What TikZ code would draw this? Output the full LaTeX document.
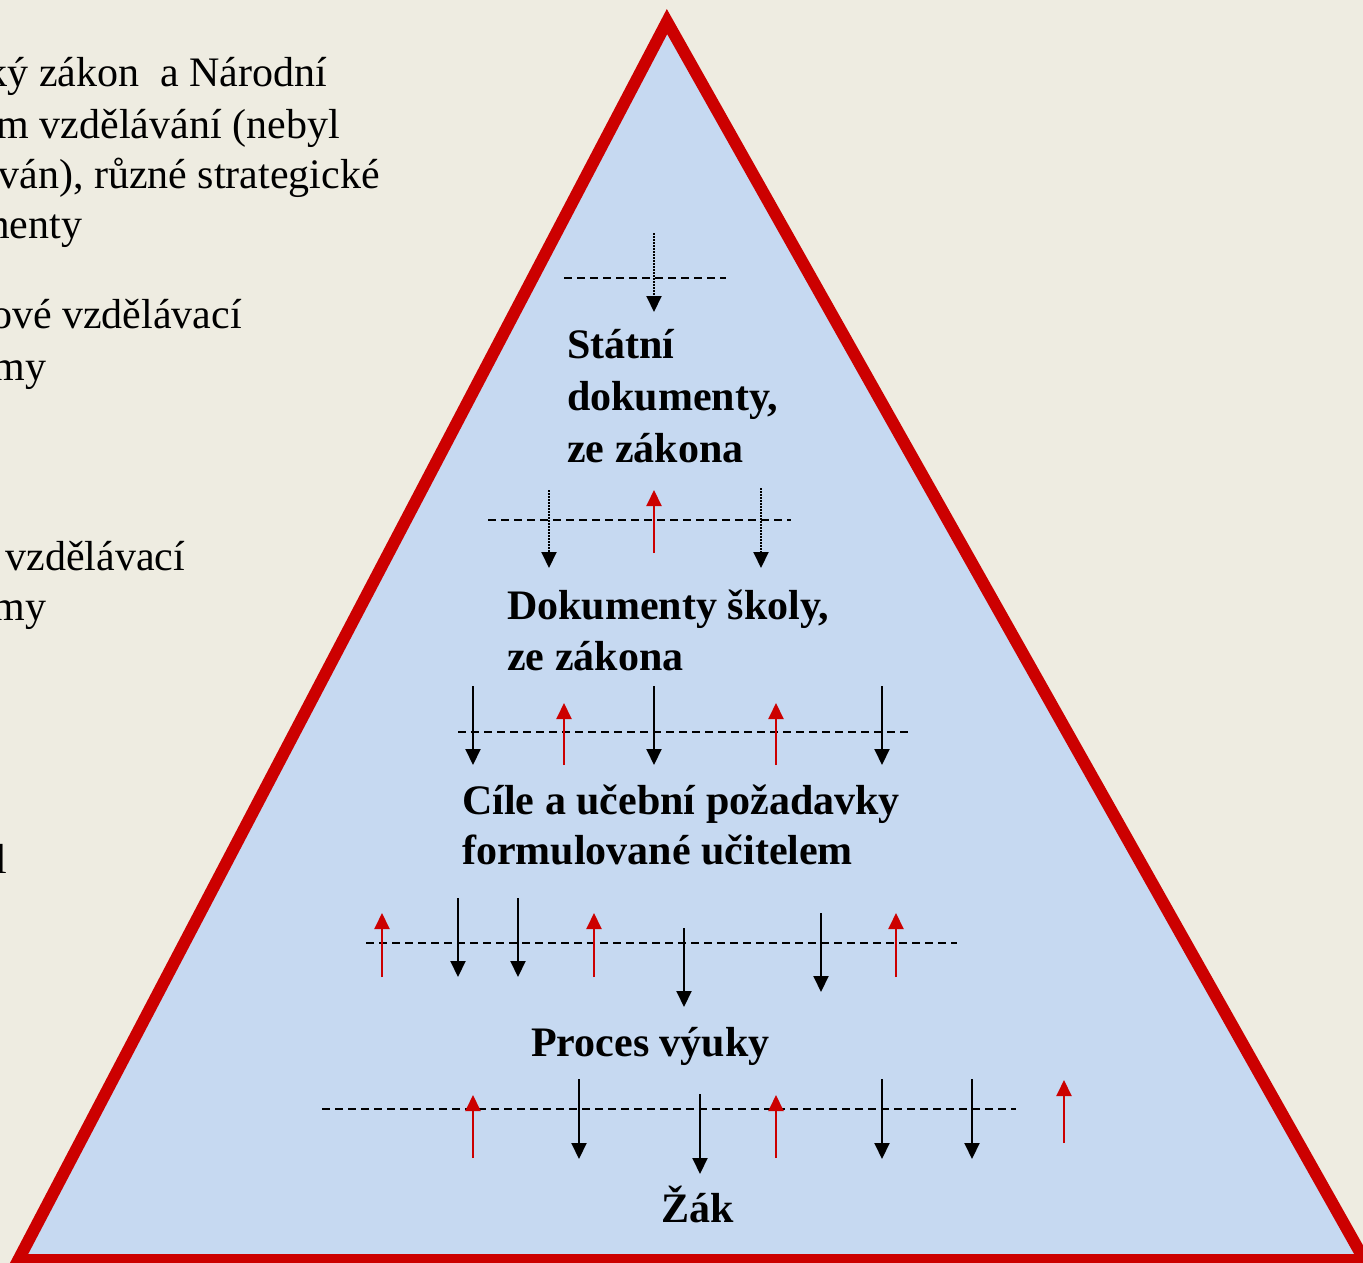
\documentclass[tikz,border=0pt]{standalone}
\usepackage{fontspec}
\setmainfont{Liberation Serif}
\usetikzlibrary{arrows.meta}
\definecolor{bgbeige}{HTML}{EEECE1}
\definecolor{pyrfill}{HTML}{C6D9F1}
\definecolor{pyrred}{HTML}{CC0000}
\tikzset{
  lefttext/.style={anchor=base west, inner sep=0pt, font=\fontsize{42}{52}\selectfont},
  leveltext/.style={anchor=base west, inner sep=0pt, font=\fontsize{42}{52}\selectfont\bfseries},
  levelline/.style={line width=2pt, dash pattern=on 8pt off 5pt},
  downarr/.style={line width=2pt, -{Triangle[width=15pt,length=16pt]}},
  dotarr/.style={downarr, dash pattern=on 1.5pt off 1.5pt},
  uparr/.style={line width=2pt, pyrred, -{Triangle[width=15pt,length=16pt]}},
}
\begin{document}
\begin{tikzpicture}[x=1pt,y=-1pt]
\path [use as bounding box, fill=bgbeige] (0,0) rectangle (1363,1263);
\clip (0,0) rectangle (1363,1263);
% texts on the left, cut by the page edge
\node [lefttext] (law1) at (-107,87) {Školský zákon\ \ a Národní};
\node [lefttext] (law2) at (-113,138) {program vzdělávání (nebyl};
\node [lefttext] (law3) at (-116,188) {realizován), různé strategické};
\node [lefttext] (law4) at (-107,238) {dokumenty};
\node [lefttext] (rvp1) at (-107,328) {Rámcové vzdělávací};
\node [lefttext] (rvp2) at (-117,380) {programy};
\node [lefttext] (svp1) at (-115,570) {Školní vzdělávací};
\node [lefttext] (svp2) at (-117,620) {programy};
\node [lefttext] (teach) at (-96,873) {Učitel};
% pyramid
\draw [pyrred, line width=12pt, fill=pyrfill, line join=miter] (667,21.6) coordinate (apex) -- (18.3,1260) coordinate (bl) -- (1364.4,1260) coordinate (br) -- cycle;
% levels
\node [leveltext] (stat1) at (567,358) {Státní};
\node [leveltext] (stat2) at (567,410) {dokumenty,};
\node [leveltext] (stat3) at (567,462) {ze zákona};
\node [leveltext] (skol1) at (507,619) {Dokumenty školy,};
\node [leveltext] (skol2) at (507,670) {ze zákona};
\node [leveltext] (cile1) at (462,814) {Cíle a učební požadavky};
\node [leveltext] (cile2) at (462,864) {formulované učitelem};
\node [leveltext] (proc) at (531,1056) {Proces výuky};
\node [leveltext] (zak) at (661,1222) {Žák};
% dashed borders between levels
\draw [levelline] (564,278) -- (726,278);
\draw [levelline] (488,520) -- (791,520);
\draw [levelline] (458,732) -- (912,732);
\draw [levelline] (366,943) -- (957,943);
\draw [levelline] (322,1109) -- (1016,1109);
% arrows
\draw [dotarr] (654,233) -- (654,312);
\foreach \x/\a/\b in {549/490/568, 761/488/568}
  \draw [dotarr] (\x,\a) -- (\x,\b);
\draw [uparr] (654,553) -- (654,490);
\foreach \x in {473,654,882}
  \draw [downarr] (\x,686) -- (\x,765);
\foreach \x in {564,776}
  \draw [uparr] (\x,765) -- (\x,703);
\foreach \x/\a/\b in {458/898/977, 518/898/977, 684/928/1007, 821/913/992}
  \draw [downarr] (\x,\a) -- (\x,\b);
\foreach \x in {382,594,896}
  \draw [uparr] (\x,977) -- (\x,913);
\foreach \x/\a/\b in {579/1079/1159, 700/1094/1174, 882/1079/1159, 972/1079/1159}
  \draw [downarr] (\x,\a) -- (\x,\b);
\foreach \x/\a/\b in {473/1158/1095, 776/1158/1095, 1064/1143/1080}
  \draw [uparr] (\x,\a) -- (\x,\b);
\end{tikzpicture}
\end{document}
